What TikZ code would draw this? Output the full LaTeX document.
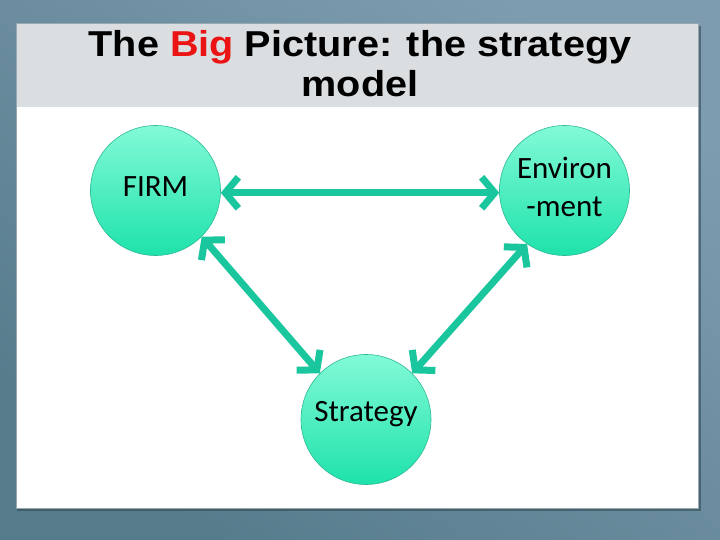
\documentclass[tikz,border=0pt]{standalone}
\usepackage{fontspec}
\setmainfont{Carlito}
\newfontfamily\titlefont[FakeStretch=1.1]{Liberation Sans}
\usetikzlibrary{arrows.meta}
\definecolor{bgA}{RGB}{126,156,176}
\definecolor{bgB}{RGB}{86,124,140}
\definecolor{band}{RGB}{218,222,225}
\definecolor{panelrim}{RGB}{150,168,178}
\definecolor{arrowteal}{RGB}{26,198,158}
\definecolor{circtop}{RGB}{130,250,215}
\definecolor{circbot}{RGB}{30,226,170}
\definecolor{circrim}{RGB}{45,185,150}
\definecolor{bigred}{RGB}{235,20,20}
\tikzset{
  ball/.style={circle, minimum size=130pt, inner sep=0pt, draw=circrim, line width=0.6pt,
    top color=circtop, bottom color=circbot},
  balltext/.style={font=\fontsize{31}{38}\selectfont, align=center, text=black, inner sep=0pt},
  link/.style={draw=arrowteal, line width=7pt,
    {Straight Barb[length=13pt,width=31pt,line width=7pt]}-{Straight Barb[length=13pt,width=31pt,line width=7pt]}}
}
\begin{document}
\begin{tikzpicture}[x=1pt,y=-1pt]
\useasboundingbox (0,0) rectangle (720,540);
\shade[shading=axis, left color=bgA, right color=bgB, shading angle=-35] (0,0) rectangle (720,540);
\fill[black!40!bgB, opacity=0.6] (17,26) rectangle (701,511);
\fill[white] (16,24) rectangle (698,508);
\fill[band] (16,24) rectangle (698,107);
\draw[panelrim, line width=1pt] (16,24) rectangle (698,508);
\node[font=\titlefont\bfseries\fontsize{36}{39.5}\selectfont, align=center, anchor=north] (title) at (360,27)
  {The {\color{bigred}Big} Picture: the strategy\\model};
\node[ball] (firm) at (155.5,190.5) {};
\node[ball] (env) at (564.5,190.5) {};
\node[ball] (strat) at (366,419.5) {};
\node[balltext] (firmtxt) at ([yshift=3.5pt]firm.center) {FIRM};
\node[balltext] (envtxt) at ([yshift=4pt]env.center) {Environ\\-ment};
\node[balltext] (strattxt) at ([yshift=5pt]strat.center) {Strategy};
\draw[link] (firm.-2) -- (env.182);
\draw[link] (firm.-45) -- (strat.135);
\draw[link] (env.235) -- (strat.45);
\end{tikzpicture}
\end{document}
